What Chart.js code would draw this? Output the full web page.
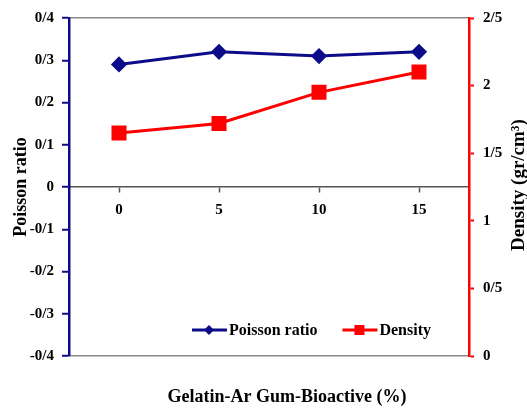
<!DOCTYPE html>
<html lang="en">
<head>
<meta charset="UTF-8">
<title>Poisson ratio / Density</title>
<script src="https://cdn.jsdelivr.net/npm/chart.js"></script>
<style>
  body { margin: 0; background: #fff; }
  #chart { position: relative; width: 527px; height: 412px; }
</style>
</head>
<body>
<div id="chart"><canvas id="canv"></canvas></div>
<script>
// datos
const categorias = ['0', '5', '10', '15'];
const poisson = [0.29, 0.32, 0.31, 0.32];
const densidad = [1.65, 1.72, 1.95, 2.10];

const azul = '#0c0c8a';
const rojo = '#ff0000';
const gris = '#8a8a8a';
const fuente = '"Liberation Serif", "Times New Roman", serif';

// 0.3 -> 0/3 como en el original
function conBarra(v) {
    return String(Math.round(v * 10) / 10).replace('.', '/');
}

// leyenda dentro del area del grafico, abajo
const leyendaDentro = {
    id: 'leyendaDentro',
    afterDraw(chart) {
        const ctx = chart.ctx;
        const area = chart.chartArea;
        const y = area.bottom - 26;
        let x = area.left + 123;
        ctx.save();
        ctx.font = 'bold 16px ' + fuente;
        ctx.textBaseline = 'middle';
        ctx.textAlign = 'left';
        chart.data.datasets.forEach(ds => {
            ctx.strokeStyle = ds.borderColor;
            ctx.lineWidth = 3;
            ctx.beginPath();
            ctx.moveTo(x, y);
            ctx.lineTo(x + 35, y);
            ctx.stroke();
            ctx.fillStyle = ds.backgroundColor;
            const cx = x + 17;
            ctx.beginPath();
            if (ds.pointStyle === 'rectRot') {
                ctx.moveTo(cx, y - 5);
                ctx.lineTo(cx + 5, y);
                ctx.lineTo(cx, y + 5);
                ctx.lineTo(cx - 5, y);
                ctx.closePath();
            } else {
                ctx.rect(cx - 5, y - 5, 10, 10);
            }
            ctx.fill();
            ctx.fillStyle = '#000';
            ctx.fillText(ds.label, x + 37, y + 1);
            x += 37 + ctx.measureText(ds.label).width + 25;
        });
        ctx.restore();
    }
};

// titulos del eje x y del eje derecho (este se lee de abajo hacia arriba)
const titulosEjes = {
    id: 'titulosEjes',
    afterDraw(chart) {
        const ctx = chart.ctx;
        const area = chart.chartArea;
        ctx.save();
        ctx.fillStyle = '#000';
        ctx.textAlign = 'center';
        ctx.textBaseline = 'middle';

        ctx.font = 'bold 18px ' + fuente;
        ctx.fillText('Gelatin-Ar Gum-Bioactive (%)', area.left + 218, area.bottom + 41);

        ctx.translate(chart.width - 8, area.top + 167);
        ctx.rotate(-Math.PI / 2);
        ctx.font = 'bold 19px ' + fuente;
        ctx.fillText('Density (gr/cm³)', 0, 0);
        ctx.restore();
    }
};

const data = {
    labels: categorias,
    datasets: [{
        label: 'Poisson ratio',
        data: poisson,
        yAxisID: 'y',
        borderColor: azul,
        backgroundColor: azul,
        borderWidth: 3,
        pointStyle: 'rectRot',
        pointRadius: 6,
        pointHoverRadius: 6
    }, {
        label: 'Density',
        data: densidad,
        yAxisID: 'y1',
        borderColor: rojo,
        backgroundColor: rojo,
        borderWidth: 3,
        pointStyle: 'rect',
        pointRadius: 8.5,
        pointHoverRadius: 8.5
    }]
};

const tickFont = { family: fuente, weight: 'bold', size: 15 };

const config = {
    type: 'line',
    data: data,
    options: {
        responsive: true,
        maintainAspectRatio: false,
        animation: false,
        layout: { padding: { top: 15, left: 0, right: 0, bottom: 56 } },
        plugins: {
            legend: { display: false },
            tooltip: { enabled: false }
        },
        scales: {
            x: {
                position: { y: 0 },
                offset: true,
                ticks: { color: '#000', font: tickFont, padding: 9 },
                grid: { drawOnChartArea: false, drawTicks: true, tickLength: 5, tickColor: '#555', tickWidth: 1.5 },
                border: { color: '#555', width: 1.5 }
            },
            y: {
                position: 'left',
                min: -0.4,
                max: 0.4,
                ticks: { stepSize: 0.1, color: '#000', font: tickFont, padding: 8, callback: v => conBarra(v) },
                grid: {
                    color: c => (c.tick && Math.abs(Math.abs(c.tick.value) - 0.4) < 1e-6) ? gris : 'rgba(0,0,0,0)',
                    lineWidth: 1.5,
                    tickColor: azul,
                    tickLength: 7,
                    tickWidth: 2
                },
                border: { color: azul, width: 2.5 },
                title: {
                    display: true,
                    text: 'Poisson ratio',
                    color: '#000',
                    font: { family: fuente, weight: 'bold', size: 18, lineHeight: 1 },
                    padding: { top: 12, bottom: 0 }
                },
                afterFit: s => { s.width = 69; }
            },
            y1: {
                position: 'right',
                min: 0,
                max: 2.5,
                ticks: { stepSize: 0.5, color: '#000', font: tickFont, padding: 9, callback: v => conBarra(v) },
                grid: { drawOnChartArea: false, tickColor: rojo, tickLength: 5, tickWidth: 2 },
                border: { color: rojo, width: 2.5 },
                afterFit: s => { s.width = 58; }
            }
        }
    },
    plugins: [leyendaDentro, titulosEjes]
};

new Chart(document.getElementById('canv'), config);
</script>
</body>
</html>
